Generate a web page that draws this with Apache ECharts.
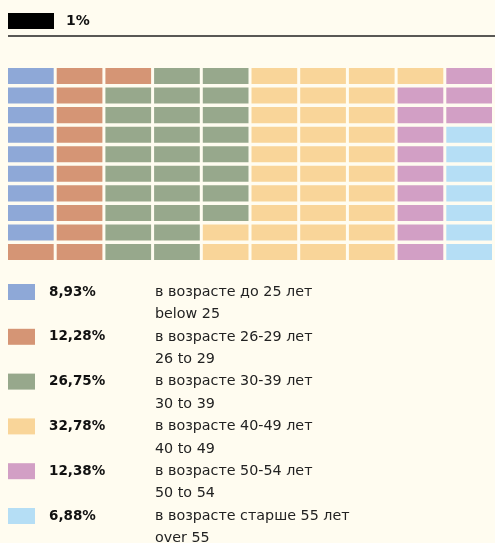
<!DOCTYPE html>
<html>
<head>
<meta charset="utf-8">
<script src="https://cdn.jsdelivr.net/npm/echarts@6/dist/echarts.min.js"></script>
<style>
  html, body { margin: 0; padding: 0; background: #fffcf0; }
  #chart { width: 495px; height: 543px; }
</style>
</head>
<body>
<div id="chart"></div>
<script>
// age groups, share in percent, cells in the 10x10 waffle (1 cell = 1%)
var percents = ['8,93%', '12,28%', '26,75%', '32,78%', '12,38%', '6,88%'];
var labelsRu = ['в возрасте до 25 лет', 'в возрасте 26-29 лет', 'в возрасте 30-39 лет',
    'в возрасте 40-49 лет', 'в возрасте 50-54 лет', 'в возрасте старше 55 лет'];
var labelsEn = ['below 25', '26 to 29', '30 to 39', '40 to 49', '50 to 54', 'over 55'];
var cellCounts = [9, 12, 27, 33, 12, 7];
var colors = ['#8ea8d7', '#d59575', '#97a88c', '#f9d599', '#d29fc5', '#b5def5'];

var cols = ['1', '2', '3', '4', '5', '6', '7', '8', '9', '10'];
var rows = ['1', '2', '3', '4', '5', '6', '7', '8', '9', '10'];

var myChart = echarts.init(document.getElementById('chart'));

// cells are filled column by column, top to bottom
var cellData = [];
var k = 0;
for (var i = 0; i < cellCounts.length; i++) {
    cellData[i] = [];
    for (var j = 0; j < cellCounts[i]; j++) {
        cellData[i].push([Math.floor(k / rows.length), k % rows.length]);
        k++;
    }
}

var renderCell = function (params, api) {
    var c = api.coord([api.value(0), api.value(1)]);
    var s = api.size([1, 1]);
    return {
        type: 'rect',
        shape: { x: c[0] - s[0] / 2, y: c[1] - s[1] / 2, width: s[0] - 3, height: s[1] - 3.5 },
        style: api.style()
    };
};

var series = [];
for (var i = 0; i < cellCounts.length; i++) {
    series.push({
        name: labelsRu[i],
        type: 'custom',
        renderItem: renderCell,
        itemStyle: { color: colors[i] },
        data: cellData[i],
        silent: true
    });
}

// legend drawn by hand: swatch, bold percent, two lines of text
var graphics = [
    { type: 'rect', shape: { x: 8, y: 13, width: 46, height: 16 }, style: { fill: '#000' } },
    { type: 'text', x: 66, y: 21, style: { text: '1%', fill: '#111', font: 'bold 14px "DejaVu Sans"', verticalAlign: 'middle' } },
    { type: 'line', shape: { x1: 8, y1: 36, x2: 495, y2: 36 }, style: { stroke: '#222', lineWidth: 1.5 } }
];
for (var i = 0; i < percents.length; i++) {
    var y0 = 292 + i * 44.8;
    graphics.push({ type: 'rect', shape: { x: 8, y: y0 - 8, width: 27, height: 16 }, style: { fill: colors[i] } });
    graphics.push({ type: 'text', x: 49, y: y0, style: { text: percents[i], fill: '#111', font: 'bold 13.5px "DejaVu Sans"', verticalAlign: 'middle' } });
    graphics.push({ type: 'text', x: 155, y: y0, style: { text: labelsRu[i], fill: '#222', font: '14.3px "DejaVu Sans"', verticalAlign: 'middle' } });
    graphics.push({ type: 'text', x: 155, y: y0 + 22.5, style: { text: labelsEn[i], fill: '#222', font: '14.3px "DejaVu Sans"', verticalAlign: 'middle' } });
}

var option = {
    backgroundColor: '#fffcf0',
    animation: false,
    grid: { left: 8, right: -4, top: 68, height: 195.6 },
    xAxis: { type: 'category', data: cols, show: false },
    yAxis: { type: 'category', data: rows, inverse: true, show: false },
    graphic: graphics,
    series: series
};
myChart.setOption(option);
</script>
</body>
</html>
